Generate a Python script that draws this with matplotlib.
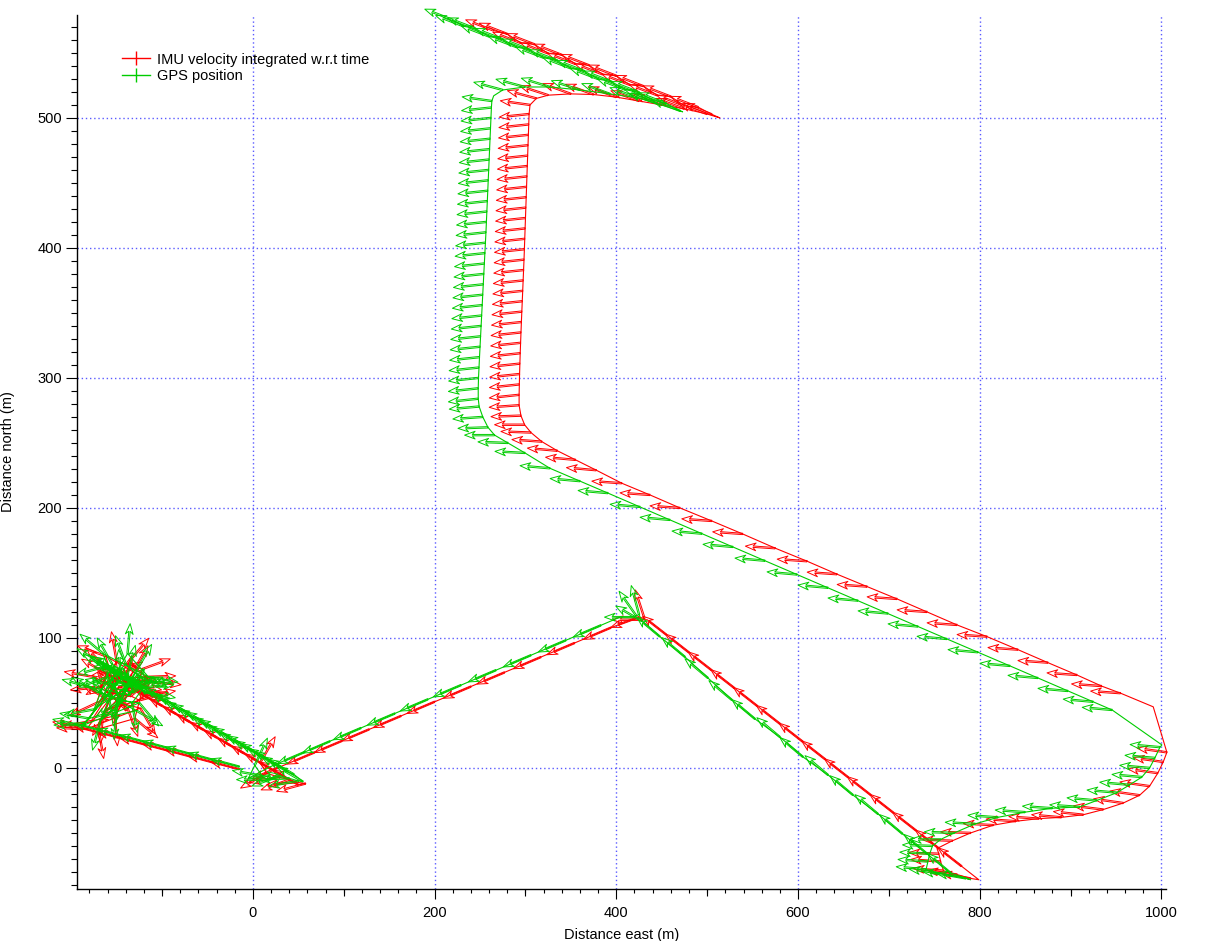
import numpy as np
import matplotlib.pyplot as plt
from matplotlib.lines import Line2D
from matplotlib.ticker import MultipleLocator

plt.rcParams['font.family'] = ['Liberation Sans', 'DejaVu Sans']

nan = float('nan')

# (east m, north m, arrow heading on screen in deg, nan = no arrow)
# ---- IMU velocity integrated (red) ----
imu_lower = [(-15, -1, 165), (-40, 3.5, 165), (-65, 8.1, 165), (-90, 12.7, 165),
             (-115, 17.3, 165), (-140, 21.9, 165), (-165, 26.4, 165), (-188, 30.6, 168)]
imu_cluster = [(-150, 70, 30), (-140, 66, 5), (-132, 74, 60), (-143, 56, 250), (-158, 52, 150),
               (-165, 42, 265), (-128, 60, 340), (-122, 76, 20), (-150, 82, 100), (-168, 62, 185),
               (-138, 46, 290), (-118, 56, 8), (-160, 76, 135), (-172, 50, 205), (-142, 64, 75),
               (-127, 68, 320), (-152, 40, 275), (-178, 36, 190), (-136, 82, 50), (-112, 66, 355),
               (-162, 86, 160), (-147, 50, 225), (-124, 46, 300), (-183, 30, 178), (-148, 62, 12),
               (-156, 58, 80), (-135, 55, 40), (-145, 75, 190), (-170, 30, 280), (-130, 38, 320),
               (-118, 70, 2), (-155, 68, 210), (-140, 44, 95), (-175, 70, 170), (-125, 52, 15),
               (-160, 45, 240), (-133, 64, 350), (-150, 56, 130)]
imu_band = [(-160, 72.1, 150), (-145, 66, 150), (-130, 59.9, 150), (-115, 53.8, 150),
            (-100, 47.8, 150), (-85, 41.7, 150), (-70, 35.6, 150), (-55, 29.5, 150),
            (-40, 23.5, 150), (-25, 17.4, 150), (-10, 11.3, 150), (5, 5.3, 150),
            (20, -0.8, 150), (35, -6.9, 150), (50, -13, 150)]
imu_origin = [(58, -12, 195), (48, -11, 185), (40, -9, 200), (28, -7, 190), (15, -4, 210),
              (8, 4, 60), (22, -1.5, nan)]
imu_to_peak = [(30, 0.9, 203), (68, 12, 203), (98, 20.8, 203), (128, 29.7, 203), (163, 40, 203),
               (200, 50.9, 203), (240, 62.6, 203), (277, 73.5, 203), (317, 85.3, 203),
               (354, 96.1, 203), (394, 107.9, 203)]
imu_peak = [(425, 116, 200), (431, 115, 108), (429, 114, 180), (434, 114, nan)]
imu_descent = [(455, 102.5, 142), (480, 88.8, 142), (505, 75.1, 142), (530, 61.4, 142),
               (555, 47.7, 142), (580, 34, 142), (605, 20.3, 142), (630, 6.6, 142),
               (655, -7.1, 142), (680, -20.8, 142), (705, -34.5, 142), (730, -48.2, 142),
               (755, -61.9, 142), (780, -75.6, 142), (799, -86, nan)]
imu_bottom = [(790, -85, 170), (775, -82, 172), (760, -79, 176), (757, -72, 176),
              (755, -66, 178), (753, -62, nan)]
imu_s_curve = [(770, -56, 178), (790, -50, 178), (815, -44, 177), (840, -41, 176),
               (865, -39, 176), (890, -38, 175), (914, -36, 174), (936, -32, 173),
               (958, -27, 172), (976, -21, 172), (987, -14, 172), (996, -4, 172),
               (1002, 4.6, 172), (1006, 12, 172), (991, 47, nan)]
imu_diagonal = [(955, 57.5, 176), (934, 63, 176), (907, 71.5, 176), (875, 81, 176),
                (842, 91, 176), (808, 101, 176), (775, 110, 176), (742, 120, 176),
                (709, 130, 176), (676, 139.5, 176), (643, 149, 176), (610, 159, 176),
                (575, 169, 176), (539, 180, 176), (505, 190, 176), (470, 200, 176),
                (437, 210, 176), (406, 219, 176)]
imu_curve = [(378, 229, 175), (355, 237, 175), (335, 244, 175), (318, 251, 176),
             (306, 258, 178), (299, 264, 180), (295, 271, 182), (293, 279, 184)]
imu_vertical = [(293, 287, 186), (293.2, 295, 186), (293.5, 303, 186), (293.8, 311, 186),
                (294.2, 319, 186), (294.6, 327, 186), (295, 335, 186), (295.5, 343, 186),
                (296, 351, 186), (296.5, 359, 186), (297, 367, 186), (297.5, 375, 186),
                (298, 383, 186), (298.4, 391, 186), (298.8, 399, 186), (299.2, 407, 186),
                (299.6, 415, 186), (300, 423, 186), (300.4, 431, 186), (300.8, 439, 186),
                (301.2, 447, 186), (301.6, 455, 186), (302, 463, 186), (302.4, 471, 186),
                (302.8, 479, 186), (303.2, 487, 186), (303.6, 495, 186), (304, 503, 186)]
imu_top = [(305, 510, 172), (312, 515, 165), (325, 517.5, 162), (350, 518.5, 160),
           (375, 518, 160), (400, 516, 160), (425, 513, 160), (450, 510, 160),
           (475, 507, 160), (500, 503, 160), (514, 500, nan)]
imu_band_top = [(505, 502.8, 159), (490, 508.3, 159), (475, 509.3, 159), (460, 516.4, 159),
                (445, 517.4, 159), (430, 524.4, 159), (415, 525.4, 159), (400, 532.4, 159),
                (385, 533.5, 159), (370, 540.5, 159), (355, 541.5, 159), (340, 548.5, 159),
                (325, 549.6, 159), (310, 556.6, 159), (295, 557.6, 159), (280, 564.6, 159),
                (265, 567.2, 159)]

# ---- GPS position (green) ----
gps_lower = [(-15, 1, 165), (-40, 5.5, 165), (-65, 10.1, 165), (-90, 14.7, 165),
             (-115, 19.3, 165), (-140, 23.9, 165), (-165, 28.4, 165), (-188, 32.6, 168)]
gps_cluster = [(-145, 68, 95), (-138, 72, 75), (-152, 64, 170), (-130, 62, 20), (-160, 70, 200),
               (-148, 55, 260), (-125, 70, 340), (-140, 80, 110), (-170, 58, 150), (-133, 50, 280),
               (-120, 62, 5), (-155, 80, 120), (-175, 45, 190), (-143, 60, 45), (-128, 75, 60),
               (-150, 45, 265), (-180, 38, 170), (-138, 88, 85), (-115, 70, 350), (-165, 88, 140),
               (-146, 52, 215), (-125, 50, 310), (-186, 33, 180), (-150, 66, -10), (-158, 62, 100),
               (-132, 58, 30), (-142, 76, 175), (-135, 66, 240), (-160, 50, 120), (-168, 36, 255),
               (-122, 66, 0), (-148, 74, 150), (-136, 56, 60), (-178, 62, 165), (-128, 44, 330),
               (-155, 40, 100), (-140, 62, 20), (-162, 78, 195), (-118, 58, 350)]
gps_band = [(-165, 80.1, 150), (-158, 75.6, 150), (-150, 74.1, 150), (-143, 69.6, 150),
            (-135, 68, 150), (-128, 63.6, 150), (-120, 62, 150), (-113, 57.6, 150),
            (-105, 55.8, 150), (-98, 51.6, 150), (-90, 49.7, 150), (-83, 45.6, 150),
            (-75, 43.7, 150), (-68, 39.6, 150), (-60, 37.6, 150), (-53, 33.6, 150),
            (-45, 31.5, 150), (-38, 27.6, 150), (-30, 25.5, 150), (-23, 21.5, 150),
            (-15, 19.4, 150), (-8, 15.4, 150), (0, 13.3, 150), (8, 9.4, 150),
            (15, 7.2, 150), (23, 3.3, 150), (30, 1.2, 150), (38, -2.8, 150),
            (45, -4.9, 150), (55, -10.5, 150)]
gps_origin = [(50, -10, 190), (40, -8, 182), (30, -6, 200), (15, -9, 180), (10, -6, 170),
              (2, 2, 65), (-5, -8, 8), (18.7, 0.8, nan)]
gps_to_peak = [(57.2, 12.3, 203), (84.8, 20.5, 203), (118.9, 30.7, 203), (156.3, 41.9, 203),
               (192.6, 52.8, 203), (229, 63.7, 203), (267.5, 75.2, 203), (306, 86.7, 203),
               (344.5, 98.2, 203), (383, 109.7, 203)]
gps_peak = [(404, 116, nan), (420, 116, 180), (422, 117, 125), (425, 118, 105), (428, 113, 150)]
gps_descent = [(448, 101, 140), (475.5, 85.4, 140), (500.8, 69.2, 140), (527.2, 52.3, 140),
               (552.6, 37.7, 140), (580, 23.8, 140), (605.4, 8.5, 140), (633, -5.4, 140),
               (660.4, -20.8, 140), (688, -35.4, 140), (715, -50.7, 140), (742, -66, 140),
               (768, -80.8, 140), (790, -86, nan)]
gps_bottom = [(785, -85, 170), (770, -83, 172), (755, -81, 172), (741, -78, 175),
              (743, -72, 176), (745, -66, 177), (748, -60, 178)]
gps_s_curve = [(757, -55, 180), (772, -50, 178), (795, -43, 177), (820, -38, 176),
               (850, -34, 176), (880, -31, 176), (910, -30, 176), (929, -25, 175),
               (951, -19, 175), (965, -13, 175), (978.5, -7, 175), (987, 0, 175),
               (992.8, 7.7, 175), (998.4, 16, 175), (1000.5, 17.7, nan)]
gps_diagonal = [(945.7, 44.6, 175), (924.8, 50.9, 175), (897, 59.2, 175), (864, 69.2, 175),
                (833.2, 78.5, 175), (798, 89, 175), (763.9, 99.2, 175), (732, 108.8, 175),
                (699, 118.8, 175), (665.9, 128.7, 175), (632.9, 138.6, 175), (598.8, 148.8, 175),
                (563.5, 159.4, 175), (528.3, 170, 175), (494.2, 180.2, 175), (459, 190.8, 175),
                (426, 200.8, 175), (390.8, 211.4, 175), (360, 220.6, 175), (326.9, 230.5, 175)]
gps_curve = [(299.4, 242.3, 177), (280.7, 250, 178), (266, 256, 180), (258.7, 262, 182),
             (253, 270, 184), (249, 278, 185)]
gps_vertical = [(248, 284, 186), (248, 292, 186), (248.3, 300, 186), (248.8, 308, 186),
                (249.4, 316, 186), (250, 324, 186), (250.6, 332, 186), (251.2, 340, 186),
                (251.8, 348, 186), (252.4, 356, 186), (253, 364, 186), (253.6, 372, 186),
                (254.2, 380, 186), (254.8, 388, 186), (255.4, 396, 186), (256, 404, 186),
                (256.5, 412, 186), (257, 420, 186), (257.5, 428, 186), (258, 436, 186),
                (258.5, 444, 186), (259, 452, 186), (259.5, 460, 186), (260, 468, 186),
                (260.5, 476, 186), (261, 484, 186), (261.5, 492, 186), (262, 500, 186),
                (262.5, 508, 186)]
gps_top = [(263, 513, 172), (265, 517, nan), (275, 521.5, 165), (299.4, 523.8, 165),
           (327, 523.8, 163), (360, 521.5, 162), (393, 518.5, 160), (424, 515.4, 160),
           (445, 511, 160), (473, 504.7, nan)]
gps_band_top = [(470, 505.5, 159), (455, 511.1, 159), (440, 513.6, 159), (425, 519.7, 159),
                (410, 521.7, 159), (395, 527.8, 159), (380, 529.9, 159), (365, 536, 159),
                (350, 538.1, 159), (335, 544.2, 159), (320, 546.3, 159), (305, 552.4, 159),
                (290, 554.5, 159), (275, 560.5, 159), (260, 562.6, 159), (245, 568.7, 159),
                (232, 570.5, 159), (220, 575.4, 159)]

imu_segments = [imu_lower, imu_cluster, imu_band, imu_origin, imu_to_peak, imu_peak,
                imu_descent, imu_bottom, imu_s_curve, imu_diagonal, imu_curve,
                imu_vertical, imu_top, imu_band_top]
gps_segments = [gps_lower, gps_cluster, gps_band, gps_origin, gps_to_peak, gps_peak,
                gps_descent, gps_bottom, gps_s_curve, gps_diagonal, gps_curve,
                gps_vertical, gps_top, gps_band_top]

RED = '#ff0000'
GREEN = '#00cc00'
ARROW_PX = 30


def draw_track(ax, segments, color):
    pts = np.array([p for seg in segments for p in seg], dtype=float)
    x, y, hdg = pts[:, 0], pts[:, 1], pts[:, 2]
    ax.plot(x, y, color=color, lw=0.8, clip_on=False, zorder=3)
    m = ~np.isnan(hdg)
    rad = np.deg2rad(hdg[m])
    # open arrows: thin shaft, swept-back head
    ax.quiver(x[m], y[m], ARROW_PX * np.cos(rad), ARROW_PX * np.sin(rad),
              angles=hdg[m], scale_units='dots', scale=1, units='dots',
              width=1.4, headwidth=5.5, headlength=7.5, headaxislength=5.5,
              pivot='tail', facecolors='none', edgecolors=color, linewidths=0.7,
              clip_on=False, zorder=3)


fig = plt.figure(figsize=(12.08, 9.41), dpi=100)
ax = fig.add_axes([0.0637, 0.0553, 0.9015, 0.9288])

draw_track(ax, imu_segments, RED)
draw_track(ax, gps_segments, GREEN)

ax.set_xlim(-193.7, 1005)
ax.set_ylim(-93.1, 579.2)

ax.xaxis.set_major_locator(MultipleLocator(200))
ax.xaxis.set_minor_locator(MultipleLocator(20))
ax.yaxis.set_major_locator(MultipleLocator(100))
ax.yaxis.set_minor_locator(MultipleLocator(10))
ax.tick_params(axis='x', which='major', direction='out', length=7.2, width=0.8, pad=5, labelsize=10.5)
ax.tick_params(axis='y', which='major', direction='out', length=7.7, width=0.8, pad=3, labelsize=10.5)
ax.tick_params(axis='x', which='minor', direction='out', length=3, width=0.8)
ax.tick_params(axis='y', which='minor', direction='out', length=4, width=0.8)

sec = ax.secondary_xaxis('bottom')
sec.set_xticks([-100, 100, 300, 500, 700, 900])
sec.set_xticklabels([])
sec.tick_params(length=5.2, width=0.8, direction='out')
sec.spines['bottom'].set_visible(False)

for s in ['top', 'right']:
    ax.spines[s].set_visible(False)
for s in ['left', 'bottom']:
    ax.spines[s].set_linewidth(1.0)

ax.grid(True, which='major', color='#5a5aff', lw=1.0, linestyle=(0, (1, 2)))
ax.set_axisbelow(True)

ax.set_xlabel('Distance east (m)', fontsize=10.5, labelpad=6)
ax.set_ylabel('Distance north (m)', fontsize=10.5, labelpad=16)

handles = [Line2D([], [], color=RED, lw=1, marker='|', markersize=10, markeredgewidth=1),
           Line2D([], [], color=GREEN, lw=1, marker='|', markersize=10, markeredgewidth=1)]
ax.legend(handles, ['IMU velocity integrated w.r.t time', 'GPS position'],
          loc='upper left', bbox_to_anchor=(0.0415, 0.957), frameon=False,
          fontsize=10.5, handlelength=1.9, handletextpad=0.5, labelspacing=0.15,
          borderpad=0, borderaxespad=0)

fig.savefig('out.png', dpi=100)
